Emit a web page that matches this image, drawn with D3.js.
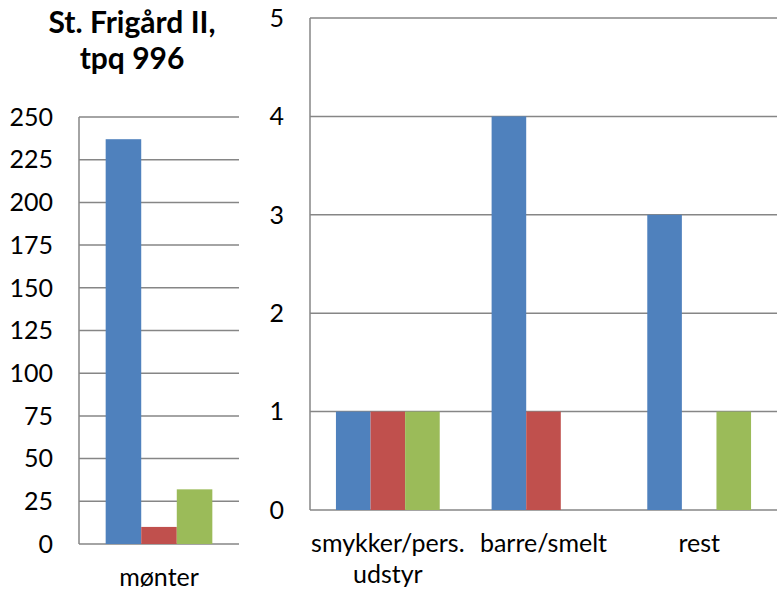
<!DOCTYPE html>
<html><head><meta charset="utf-8">
<script src="https://cdn.jsdelivr.net/npm/d3@7"></script>
<style>body{margin:0;background:#fff}svg{display:block}text{font-family:Lato,"Open Sans",sans-serif;fill:#000}</style>
</head><body>
<svg id="c" width="782" height="594"></svg>
<script>
const title = ["St. Frigård II,", "tpq 996"];
const seriesColors = ["#4F81BD", "#C0504D", "#9BBB59"];
const leftCategories = ["mønter"];
const leftValues = [[237], [10], [32]];
const leftTicks = [0, 25, 50, 75, 100, 125, 150, 175, 200, 225, 250];
const rightCategories = [["smykker/pers.", "udstyr"], ["barre/smelt"], ["rest"]];
const rightValues = [[1, 4, 3], [1, 1, 0], [1, 0, 1]];
const rightTicks = [0, 1, 2, 3, 4, 5];

const svg = d3.select("#c");
const fs = 25;

function panel(x0, x1, y0, y1, maxV, ticks, cats, vals, labelRight) {
  const g = svg.append("g");
  const y = d3.scaleLinear().domain([0, maxV]).range([y0, y1]);
  const x = d3.scaleBand().domain(d3.range(cats.length)).range([x0, x1]).paddingInner(0).paddingOuter(0);
  const bw = x.bandwidth();
  const inner = d3.scaleBand().domain(d3.range(vals.length)).range([0, bw]).paddingOuter(0.75).paddingInner(0);
  g.selectAll("line.grid").data(ticks).join("line")
    .attr("x1", x0).attr("x2", x1).attr("y1", d => y(d)).attr("y2", d => y(d))
    .attr("stroke", "#868686").attr("stroke-width", 1.5);
  g.append("line").attr("x1", x0).attr("x2", x0).attr("y1", y0).attr("y2", y1)
    .attr("stroke", "#868686").attr("stroke-width", 1.5);
  g.selectAll("text.tick").data(ticks).join("text")
    .attr("x", labelRight).attr("y", d => y(d)).attr("dy", "0.35em")
    .attr("text-anchor", "end").style("font-size", fs + "px").text(d => d);
  vals.forEach((s, si) => {
    g.selectAll(null).data(s).join("rect")
      .attr("x", (d, i) => x(i) + inner(si)).attr("width", inner.bandwidth())
      .attr("y", d => y(d)).attr("height", d => y0 - y(d))
      .attr("fill", seriesColors[si]);
  });
  cats.forEach((c, i) => {
    const lines = Array.isArray(c) ? c : [c];
    lines.forEach((l, li) => {
      g.append("text").attr("x", x(i) + bw / 2).attr("y", (y0 + 42) + li * 31)
        .attr("text-anchor", "middle").style("font-size", fs + "px").text(l);
    });
  });
}

panel(79, 239, 544, 117, 250, leftTicks, leftCategories, leftValues, 53);
panel(310, 777, 510, 18, 5, rightTicks, rightCategories, rightValues, 284);

svg.selectAll("text.title").data(title).join("text")
  .attr("x", 132).attr("y", (d, i) => 33 + i * 36)
  .attr("text-anchor", "middle").style("font-size", "30px").style("font-weight", "bold").text(d => d);
</script>
</body></html>
